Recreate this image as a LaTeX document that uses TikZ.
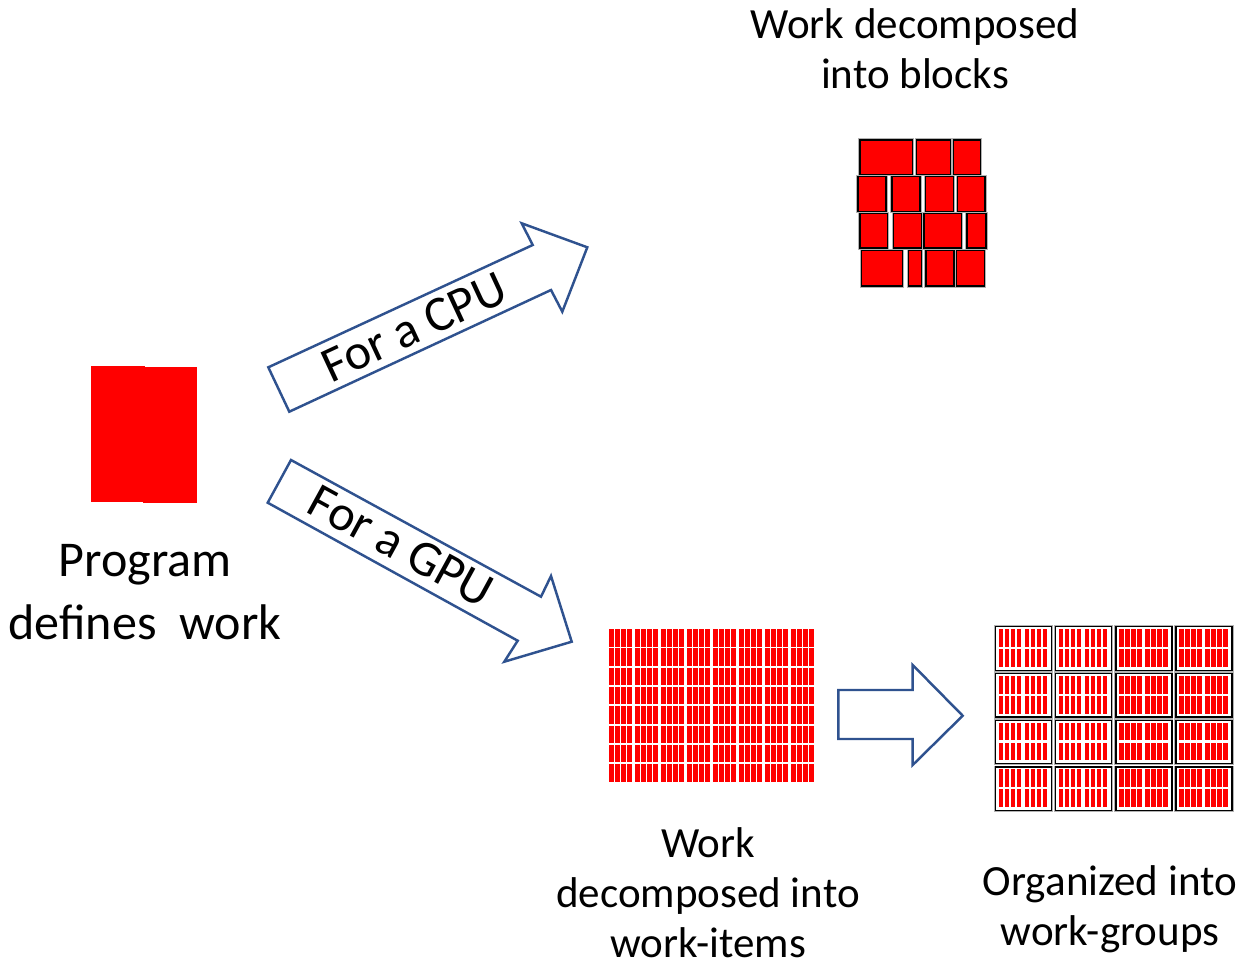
\documentclass[tikz,border=0pt]{standalone}
\usepackage{fontspec}
\setmainfont{Carlito}
\definecolor{arrowblue}{RGB}{47,82,143}

\begin{document}
\begin{tikzpicture}[x=0.02cm, y=-0.02cm,
    label text/.style={font=\fontsize{24.5}{28.45}\selectfont, align=center, inner sep=0pt, anchor=base},
    big text/.style={font=\fontsize{28.5}{35.3}\selectfont, align=center, inner sep=0pt},
    block arrow/.style={draw=arrowblue, line width=1.4pt, line join=miter, fill=white},
    cpu block/.style={fill=red, draw=black, line width=0.7pt, preaction={draw=gray!60, line width=1.8pt}},
    group box/.style={fill=white, draw=black, line width=0.7pt, preaction={draw=gray!60, line width=1.8pt}},
    item/.style={fill=red}]
    \useasboundingbox (0,0) rectangle (1240,967);

    % 程序定义的工作
    \fill[red] (91,366) rectangle (145,502);
    \fill[red] (143,367) rectangle (196.5,502.5);
    \node[big text, anchor=base] (program) at (145,639) {Program\\defines\ \ work};

    % 箭头
    \draw[block arrow] (268.3,367.3) -- (532.7,245) -- (521.7,223.3) -- (587.3,247.3)
        -- (562.3,311.7) -- (551,290) -- (289.3,411.7) -- cycle;
    \node[big text, rotate=24.9] (cpulabel) at (414,327) {For a CPU};

    \draw[block arrow] (291,460) -- (541,596.7) -- (551,576) -- (571.7,641.7)
        -- (504.3,661.7) -- (517.7,640.7) -- (267.7,502.7) -- cycle;
    \node[big text, rotate=-28.7] (gpulabel) at (401,546) {For a GPU};

    \draw[block arrow] (838.3,690) -- (912.7,690) -- (912.7,665) -- (962.7,715.7)
        -- (912.7,765) -- (912.7,739) -- (838.3,739) -- cycle;

    % CPU 块
    \foreach \a/\b/\c/\d in {860/140/912.7/174.3, 916.7/140/950.7/174.3, 953.3/140/980.7/174.3,
        858/176.7/886/211.7, 892/176.7/920/211.7, 925.3/176.7/953.3/211.7, 957.3/176.7/985/211.7,
        860/213.3/887.7/248, 893.3/213.3/921.7/248, 924/213.3/961.7/248, 967/213.3/986/248,
        861.3/250.7/902.3/286, 908.3/250.7/921.7/286, 926/250.7/954/286, 956.7/250.7/984.7/286}
        \draw[cpu block] (\a,\b) rectangle (\c,\d);
    \node[label text] (blocks) at (915,88) {Work decomposed\\into blocks};

    % 工作项
    \foreach \r in {0,...,7}
        \foreach \g in {0,...,7}
            \foreach \b in {0,...,3}
                \fill[item] ({609+26*\g+6*\b},{629+19.3*\r}) rectangle +(4.7,17.5);
    \node[label text] (items) at (708,957) {Work\\decomposed into\\work-items};

    % 工作组
    \foreach \i in {0,...,3}
        \foreach \j in {0,...,3} {
            \draw[group box] ({995.7+60.1*\i},{626.7+46.8*\j}) rectangle +(56,43.5);
            \foreach \r in {0,1}
                \foreach \g in {0,1}
                    \foreach \b in {0,...,3}
                        \fill[item] ({995.7+60.1*\i+3.3+26*\g+6*\b},{626.7+46.8*\j+2.3+20*\r})
                            rectangle +(4.3,17.7);
        }
    \node[label text] (groups) at (1110,945) {Organized into\\work-groups};
\end{tikzpicture}
\end{document}
